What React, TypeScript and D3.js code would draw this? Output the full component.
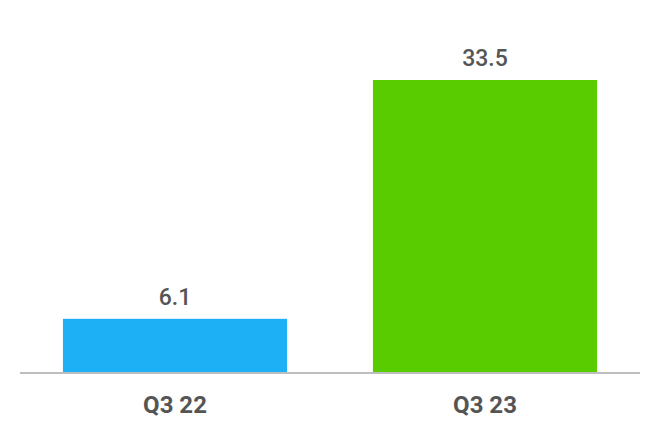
import * as d3 from 'd3'

const categories = ['Q3 22', 'Q3 23']
const values = [6.1, 33.5]
const colors = ['#1EB0F5', '#59CC00']

export default function App() {
  const width = 660
  const height = 440
  const baseline = 372

  const x = d3.scaleBand<string>()
    .domain(categories)
    .range([20, 640])
    .paddingInner(0.277)
    .paddingOuter(0.1385)

  const y = d3.scaleLinear()
    .domain([0, d3.max(values) ?? 0])
    .range([baseline, 80])

  return (
    <svg
      width={width}
      height={height}
      viewBox={`0 0 ${width} ${height}`}
      style={{position: 'absolute', left: 0, top: 0, background: '#fff'}}
      fontFamily={'Roboto'}
    >
      {categories.map((c, i) => (
        <rect
          key={c}
          x={x(c)}
          y={y(values[i])}
          width={x.bandwidth()}
          height={baseline - y(values[i])}
          fill={colors[i]}
        />
      ))}
      <line x1={20} x2={640} y1={baseline + 1} y2={baseline + 1} stroke={'#bdbdbd'} strokeWidth={2} />
      <g textAnchor={'middle'} fill={'#555'}>
        {categories.map((c, i) => (
          <text key={c} x={(x(c) ?? 0) + x.bandwidth() / 2} y={y(values[i]) - 14} fontSize={23} fontWeight={500}>
            {values[i].toFixed(1)}
          </text>
        ))}
        {categories.map(c => (
          <text key={c} x={(x(c) ?? 0) + x.bandwidth() / 2} y={413} fontSize={24} fontWeight={700}>
            {c}
          </text>
        ))}
      </g>
    </svg>
  )
}
